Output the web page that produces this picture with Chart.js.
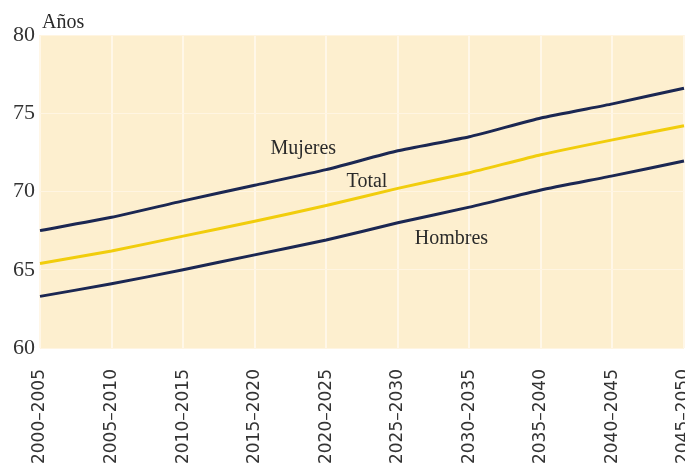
<!DOCTYPE html>
<html>
<head>
<meta charset="utf-8">
<script src="https://cdn.jsdelivr.net/npm/chart.js@4"></script>
<style>
  html, body { margin: 0; padding: 0; background: #fff; }
  #wrap { width: 685px; height: 466px; }
</style>
</head>
<body>
<div id="wrap"><canvas id="lifeChart"></canvas></div>
<script>
// ---- Data ----
const periods = ['2000–2005', '2005–2010', '2010–2015', '2015–2020', '2020–2025',
                 '2025–2030', '2030–2035', '2035–2040', '2040–2045', '2045–2050'];
const mujeres = [67.5, 68.35, 69.4, 70.4, 71.4, 72.6, 73.5, 74.7, 75.6, 76.6];
const total   = [65.4, 66.2, 67.15, 68.1, 69.1, 70.2, 71.2, 72.35, 73.3, 74.2];
const hombres = [63.3, 64.1, 65.0, 65.95, 66.9, 68.0, 69.0, 70.1, 71.0, 71.95];
const yTicks  = [60, 65, 70, 75, 80];

// series labels placed inside the plot: [text, x index, y value]
const seriesLabels = [
    ['Mujeres', 3.68, 72.75],
    ['Total', 4.57, 70.6],
    ['Hombres', 5.75, 67.0]
];

const NAVY = '#1b2752';
const GOLD = '#f1cd0c';
const SERIF = "'Liberation Serif', 'DejaVu Serif', serif";

// ---- Plugins ----
const plotBackground = {
    id: 'plotBackground',
    beforeDraw(chart) {
        const { ctx, chartArea: a } = chart;
        ctx.save();
        ctx.fillStyle = '#fdefcf';
        ctx.fillRect(a.left, a.top, a.right - a.left, a.bottom - a.top);
        ctx.restore();
    }
};

const textLabels = {
    id: 'textLabels',
    afterDatasetsDraw(chart) {
        const { ctx, chartArea: a, scales } = chart;
        ctx.save();
        ctx.fillStyle = '#2a2a2a';
        ctx.font = '20px ' + SERIF;
        ctx.textBaseline = 'alphabetic';
        ctx.textAlign = 'left';
        ctx.fillText('Años', a.left + 2, a.top - 7);

        ctx.textAlign = 'center';
        ctx.textBaseline = 'middle';
        seriesLabels.forEach(([txt, xi, yv]) => {
            const x = scales.x.left + (scales.x.right - scales.x.left) * xi / (periods.length - 1);
            ctx.fillText(txt, x, scales.y.getPixelForValue(yv));
        });
        ctx.restore();
    }
};

// ---- Chart ----
const lineDefaults = { borderWidth: 3, pointRadius: 0, tension: 0.15, fill: false };

new Chart(document.getElementById('lifeChart'), {
    type: 'line',
    data: {
        labels: periods,
        datasets: [
            { label: 'Mujeres', data: mujeres, borderColor: NAVY, ...lineDefaults },
            { label: 'Total', data: total, borderColor: GOLD, ...lineDefaults },
            { label: 'Hombres', data: hombres, borderColor: NAVY, ...lineDefaults }
        ]
    },
    options: {
        responsive: true,
        maintainAspectRatio: false,
        animation: false,
        layout: { padding: { top: 35, right: 1, left: 0, bottom: 0 } },
        plugins: {
            legend: { display: false },
            tooltip: { enabled: false }
        },
        scales: {
            x: {
                offset: false,
                grid: { color: '#fff7e8', lineWidth: 2, drawTicks: false },
                border: { display: false },
                ticks: {
                    maxRotation: 90,
                    minRotation: 90,
                    autoSkip: false,
                    padding: 21,
                    color: '#333',
                    font: { family: "'DejaVu Sans', sans-serif", size: 17 }
                },
                afterFit(scale) {
                    scale.height = 118;
                    scale.paddingLeft = 0;
                    scale.paddingRight = 0;
                }
            },
            y: {
                min: 60,
                max: 80,
                afterBuildTicks(scale) {
                    scale.ticks = yTicks.map(v => ({ value: v }));
                },
                grid: { color: '#fff5e2', lineWidth: 1, drawTicks: false },
                border: { display: false },
                ticks: {
                    padding: 5,
                    color: '#333',
                    font: { family: SERIF, size: 22 }
                },
                afterFit(scale) {
                    scale.width = 40;
                }
            }
        }
    },
    plugins: [plotBackground, textLabels]
});
</script>
</body>
</html>
